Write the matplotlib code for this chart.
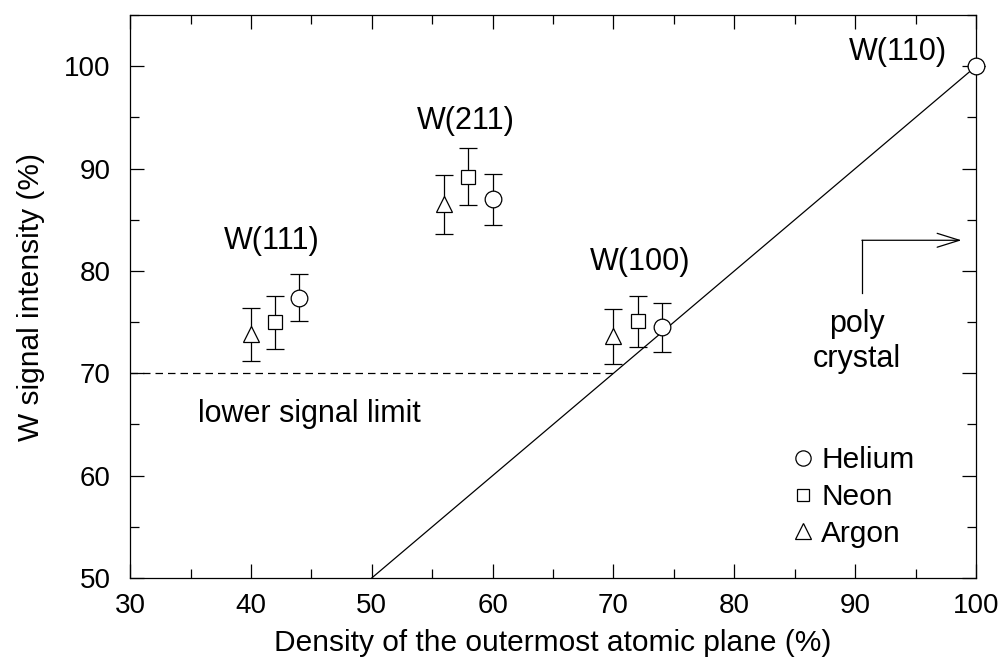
import matplotlib
matplotlib.use("Agg")
import matplotlib.pyplot as plt
from matplotlib.ticker import MultipleLocator

plt.rcParams['font.family'] = ['Liberation Sans', 'DejaVu Sans']

# Data
helium_x = [44, 60, 74, 100]
helium_y = [77.4, 87.0, 74.5, 100.0]
helium_err = [2.3, 2.5, 2.4, 0.0]

neon_x = [42, 58, 72]
neon_y = [75.0, 89.2, 75.1]
neon_err = [2.6, 2.8, 2.5]

argon_x = [40, 56, 70]
argon_y = [73.8, 86.5, 73.6]
argon_err = [2.6, 2.9, 2.7]

ideal_x = [50, 100]
ideal_y = [50, 100]

limit_x = [30, 70]
limit_y = [70, 70]

labels = ["W(111)", "W(211)", "W(100)", "W(110)"]
label_pos = [(41.75, 82.9), (57.8, 94.7), (72.2, 80.9), (93.5, 101.4)]

fig = plt.figure(figsize=(10.01, 6.59), dpi=100)
ax = fig.add_axes([0.13, 0.123, 0.845, 0.854])

lw = 0.9
common = dict(linestyle='none', color='black', mfc='white', mec='black',
              ecolor='black', elinewidth=lw, capsize=6.8, capthick=lw,
              markeredgewidth=lw, zorder=3, clip_on=False)
ax.plot(ideal_x, ideal_y, color='black', lw=lw, zorder=2)
ax.plot(limit_x, limit_y, color='black', lw=lw, linestyle=(0, (6, 4)), zorder=2)

h = ax.errorbar(helium_x, helium_y, yerr=helium_err, fmt='o', ms=12, label='Helium', **common)
n = ax.errorbar(neon_x, neon_y, yerr=neon_err, fmt='s', ms=10, label='Neon', **common)
a = ax.errorbar(argon_x, argon_y, yerr=argon_err, fmt='^', ms=12, label='Argon', **common)

tfs = 20
lfs = 21.5
afs = 22
for t, (x, y) in zip(labels, label_pos):
    ax.text(x, y, t, ha='center', va='center', fontsize=afs)
ax.text(44.8, 66.05, "lower signal limit", ha='center', va='center', fontsize=afs)
ax.text(90.15, 73.1, "poly\ncrystal", ha='center', va='center', fontsize=afs, linespacing=1.25)

# arrow for poly crystal
ax.plot([90.56, 90.56], [77.8, 83.0], color='black', lw=lw)
ax.annotate("", xy=(98.8, 83.0), xytext=(90.56, 83.0),
            arrowprops=dict(arrowstyle='->,head_length=1.6,head_width=0.5', color='black', lw=lw,
                            shrinkA=0, shrinkB=0))

ax.set_xlim(30, 100)
ax.set_ylim(50, 105)
ax.xaxis.set_major_locator(MultipleLocator(10))
ax.xaxis.set_minor_locator(MultipleLocator(5))
ax.yaxis.set_major_locator(MultipleLocator(10))
ax.yaxis.set_minor_locator(MultipleLocator(5))
ax.set_yticks([50, 60, 70, 80, 90, 100])
ax.tick_params(which='both', direction='in', top=True, right=True, labelsize=tfs, width=lw)
ax.tick_params(which='major', length=10)
ax.tick_params(axis='x', which='major', pad=11)
ax.tick_params(axis='y', which='major', pad=14)
ax.tick_params(which='minor', length=6.5)
for s in ax.spines.values():
    s.set_linewidth(lw)

ax.set_xlabel("Density of the outermost atomic plane (%)", fontsize=lfs, labelpad=7)
ax.set_ylabel("W signal intensity (%)", fontsize=lfs, labelpad=14)

handles = [
    plt.Line2D([], [], marker='o', ls='none', ms=11, mfc='white', mec='black', mew=lw),
    plt.Line2D([], [], marker='s', ls='none', ms=9, mfc='white', mec='black', mew=lw),
    plt.Line2D([], [], marker='^', ls='none', ms=11, mfc='white', mec='black', mew=lw),
]
ax.legend(handles, ['Helium', 'Neon', 'Argon'], loc='upper left', frameon=False,
          fontsize=lfs, handlelength=1.0, handletextpad=0.1, labelspacing=0.3,
          borderpad=0, borderaxespad=0, bbox_to_anchor=(0.778, 0.2344))

fig.savefig("out.png", dpi=100)
